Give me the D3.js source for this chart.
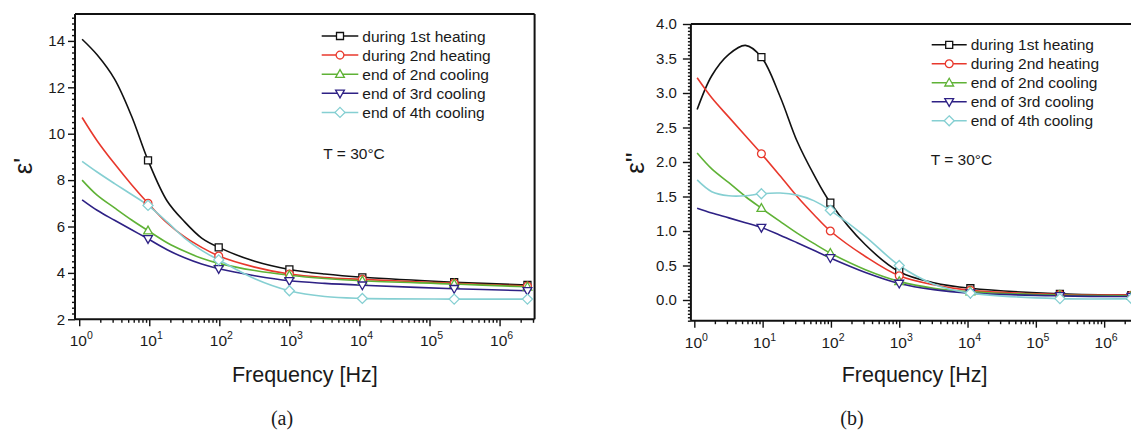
<!DOCTYPE html>
<html><head><meta charset="utf-8">
<script src="https://cdn.jsdelivr.net/npm/d3@7"></script>
<style>
body{margin:0;background:#fff}
text{font-family:"Liberation Sans",Arial,sans-serif;fill:#1a1a1a}
</style>
</head><body>
<svg id="c" width="1131" height="431"></svg>
<script>
// ---------- DATA ----------
const freqs = [1.1, 1.8, 3.2, 5.6, 9.6, 18, 32, 56, 98, 320, 1000, 3200, 11000, 225000, 2500000];
const markerIdx = [4, 8, 10, 12, 13, 14];
const seriesNames = ["during 1st heating", "during 2nd heating", "end of 2nd cooling", "end of 3rd cooling", "end of 4th cooling"];

// epsilon' (a)
const realHeat1 = [14.07, 13.4, 12.35, 10.75, 8.85, 7.1, 6.2, 5.5, 5.1, 4.5, 4.15, 3.95, 3.81, 3.6, 3.48];
const realHeat2 = [10.7, 9.7, 8.7, 7.8, 7.0, 6.15, 5.55, 5.1, 4.73, 4.25, 3.95, 3.8, 3.72, 3.55, 3.43];
const realCool2 = [8.0, 7.35, 6.8, 6.28, 5.82, 5.3, 4.93, 4.63, 4.41, 4.1, 3.9, 3.76, 3.66, 3.52, 3.4];
const realCool3 = [7.15, 6.7, 6.27, 5.86, 5.47, 5.0, 4.65, 4.38, 4.18, 3.88, 3.66, 3.55, 3.47, 3.32, 3.23];
const realCool4 = [8.81, 8.35, 7.85, 7.38, 6.91, 6.2, 5.5, 4.97, 4.56, 3.75, 3.23, 2.98, 2.9, 2.87, 2.87];

// epsilon'' (b)
const imagHeat1 = [2.76, 3.25, 3.56, 3.69, 3.52, 2.95, 2.3, 1.82, 1.41, 0.8, 0.41, 0.25, 0.17, 0.09, 0.07];
const imagHeat2 = [3.22, 2.93, 2.65, 2.38, 2.12, 1.8, 1.5, 1.24, 1.0, 0.63, 0.35, 0.22, 0.14, 0.08, 0.07];
const imagCool2 = [2.13, 1.9, 1.7, 1.5, 1.33, 1.14, 0.97, 0.82, 0.68, 0.44, 0.27, 0.17, 0.12, 0.07, 0.06];
const imagCool3 = [1.33, 1.26, 1.19, 1.12, 1.05, 0.94, 0.83, 0.72, 0.61, 0.4, 0.24, 0.15, 0.1, 0.06, 0.05];
const imagCool4 = [1.74, 1.57, 1.51, 1.51, 1.54, 1.55, 1.52, 1.44, 1.30, 0.92, 0.5, 0.23, 0.1, 0.02, 0.02];

const xDecades = [0, 1, 2, 3, 4, 5, 6];
const yTicksA = [2, 4, 6, 8, 10, 12, 14];
const yTicksB = [0.0, 0.5, 1.0, 1.5, 2.0, 2.5, 3.0, 3.5, 4.0];

// ---------- STYLE ----------
const colors = ["#111111", "#e8382c", "#5fb236", "#2e2185", "#85cfd2"];
const shapes = ["square", "circle", "triUp", "triDown", "diamond"];

const svg = d3.select("#c");

function markerPath(type) {
  switch (type) {
    case "square": return "M-3.5,-3.5H3.5V3.5H-3.5Z";
    case "circle": return "M3.9,0A3.9,3.9 0 1 1 -3.9,0A3.9,3.9 0 1 1 3.9,0Z";
    case "triUp": return "M0,-4.6L4.4,3.2L-4.4,3.2Z";
    case "triDown": return "M0,4.6L4.4,-3.2L-4.4,-3.2Z";
    case "diamond": return "M0,-5L5,0L0,5L-5,0Z";
  }
}

function drawPanel(cfg) {
  const g = svg.append("g");
  const x = cfg.x, y = cfg.y;
  const [x0, x1] = x.range();
  const [yb, yt] = y.range();

  // lines
  const line = d3.line().x(d => x(d[0])).y(d => y(d[1])).curve(d3.curveCatmullRom.alpha(0.5));
  cfg.series.forEach((vals, i) => {
    const pts = freqs.map((f, k) => [f, vals[k]]);
    g.append("path").attr("d", line(pts)).attr("fill", "none")
      .attr("stroke", colors[i]).attr("stroke-width", 1.6);
  });
  cfg.series.forEach((vals, i) => {
    markerIdx.forEach(k => {
      g.append("path").attr("d", markerPath(shapes[i]))
        .attr("transform", `translate(${x(freqs[k])},${y(vals[k])})`)
        .attr("fill", "#fff").attr("stroke", colors[i]).attr("stroke-width", 1.3);
    });
  });

  // frame
  g.append("line").attr("x1", x0).attr("x2", x1).attr("y1", yt).attr("y2", yt)
    .attr("stroke", "#111").attr("stroke-width", 2);
  g.append("line").attr("x1", x1).attr("x2", x1).attr("y1", yt).attr("y2", yb)
    .attr("stroke", "#111").attr("stroke-width", 2);

  // y axis
  const minorY = d3.range(cfg.yMinorStart, cfg.yMinorEnd + 1e-9, cfg.yMinorStep)
    .filter(v => !cfg.yTicks.some(t => Math.abs(t - v) < 1e-6));
  const ayMin = d3.axisLeft(y).tickValues(minorY).tickSize(3).tickFormat("");
  const ayMaj = d3.axisLeft(y).tickValues(cfg.yTicks).tickSize(cfg.yMajLen).tickPadding(cfg.yPad).tickFormat(cfg.yFmt);
  const gyMin = g.append("g").attr("transform", `translate(${x0},0)`).call(ayMin);
  const gyMaj = g.append("g").attr("transform", `translate(${x0},0)`).call(ayMaj);
  [gyMin, gyMaj].forEach(a => {
    a.select(".domain").remove();
    a.selectAll("line").attr("stroke", "#111").attr("stroke-width", 1.4);
  });
  gyMaj.selectAll("text").style("font-size", "15px").attr("fill", "#1a1a1a");
  g.append("line").attr("x1", x0).attr("x2", x0).attr("y1", yt).attr("y2", yb)
    .attr("stroke", "#111").attr("stroke-width", 2);

  // x axis
  const majX = xDecades.map(d => Math.pow(10, d));
  const minX = [];
  xDecades.forEach(d => { for (let m = 2; m <= 9; m++) { const v = m * Math.pow(10, d); if (v <= x.domain()[1]) minX.push(v); } });
  const axMin = d3.axisBottom(x).tickValues(minX).tickSize(3.5).tickFormat("");
  const axMaj = d3.axisBottom(x).tickValues(majX).tickSize(7).tickFormat("");
  const gxMin = g.append("g").attr("transform", `translate(0,${yb})`).call(axMin);
  const gxMaj = g.append("g").attr("transform", `translate(0,${yb})`).call(axMaj);
  [gxMin, gxMaj].forEach(a => {
    a.select(".domain").remove();
    a.selectAll("line").attr("stroke", "#111").attr("stroke-width", 1.4);
  });
  g.append("line").attr("x1", x0).attr("x2", x1).attr("y1", yb).attr("y2", yb)
    .attr("stroke", "#111").attr("stroke-width", 2);

  xDecades.forEach(d => {
    const t = g.append("text").attr("x", x(Math.pow(10, d)) + 2).attr("y", yb + 27)
      .attr("text-anchor", "middle").style("font-size", "15.5px");
    t.append("tspan").text("10");
    t.append("tspan").attr("dy", -7).style("font-size", "10.5px").text(String(d));
  });

  // axis titles
  g.append("text").attr("x", (x0 + x1) / 2).attr("y", 382)
    .attr("text-anchor", "middle").style("font-size", "21.5px").text("Frequency [Hz]");
  g.append("text").attr("transform", `translate(${cfg.yLabelX},${cfg.yLabelY}) rotate(-90)`)
    .attr("text-anchor", "middle").style("font-size", "26px").text(cfg.yLabel);

  // legend
  seriesNames.forEach((name, i) => {
    const cy = cfg.legY + i * cfg.legStep;
    g.append("line").attr("x1", cfg.legX).attr("x2", cfg.legX + cfg.legLen)
      .attr("y1", cy).attr("y2", cy).attr("stroke", colors[i]).attr("stroke-width", 1.5);
    g.append("path").attr("d", markerPath(shapes[i]))
      .attr("transform", `translate(${cfg.legX + cfg.legLen / 2},${cy})`)
      .attr("fill", "#fff").attr("stroke", colors[i]).attr("stroke-width", 1.3);
    g.append("text").attr("x", cfg.legX + cfg.legLen + 4).attr("y", cy + 5.5)
      .style("font-size", "15.5px").text(name);
  });
  g.append("text").attr("x", cfg.tX).attr("y", cfg.tY).style("font-size", "15.5px").text("T = 30°C");

  // caption
  svg.append("text").attr("x", cfg.capX).attr("y", 425).attr("text-anchor", "middle")
    .style("font-family", "'Liberation Serif','Times New Roman',serif").style("font-size", "20px")
    .text(cfg.caption);
}

drawPanel({
  x: d3.scaleLog().domain([Math.pow(10, -0.06), Math.pow(10, 6.5)]).range([75, 534.6]),
  y: d3.scaleLinear().domain([2, 15.16]).range([319.3, 14]),
  series: [realHeat1, realHeat2, realCool2, realCool3, realCool4],
  yTicks: yTicksA, yMinorStart: 2, yMinorEnd: 15.16, yMinorStep: 0.25,
  yMajLen: 7, yPad: 3, yFmt: d3.format("d"),
  yLabel: "ε'", yLabelX: 32, yLabelY: 166,
  legX: 321.7, legLen: 36.6, legY: 36, legStep: 19.1,
  tX: 323.3, tY: 158.5,
  caption: "(a)", capX: 282
});

drawPanel({
  x: d3.scaleLog().domain([Math.pow(10, -0.05), Math.pow(10, 6.5)]).range([690.9, 1138.3]),
  y: d3.scaleLinear().domain([-0.3, 4.0]).range([320.7, 24]),
  series: [imagHeat1, imagHeat2, imagCool2, imagCool3, imagCool4],
  yTicks: yTicksB, yMinorStart: -0.3, yMinorEnd: 4.0, yMinorStep: 0.05,
  yMajLen: 8, yPad: 6, yFmt: d3.format(".1f"),
  yLabel: "ε''", yLabelX: 644, yLabelY: 163,
  legX: 931.7, legLen: 35, legY: 44.8, legStep: 19,
  tX: 930.7, tY: 165,
  caption: "(b)", capX: 852
});
</script>
</body></html>
